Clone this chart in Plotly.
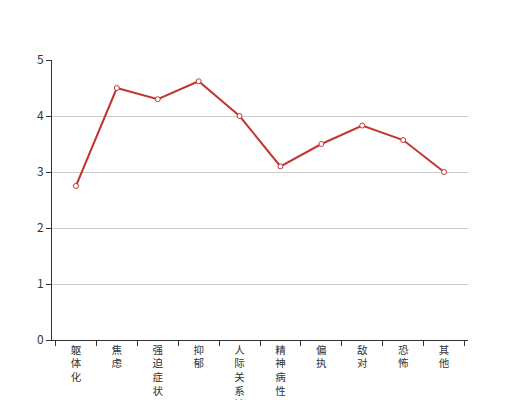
import plotly.graph_objects as go

categories = ["躯体化", "焦虑", "强迫症状", "抑郁", "人际关系敏感",
              "精神病性", "偏执", "敌对", "恐怖", "其他"]
scores = [2.75, 4.5, 4.3, 4.62, 4.0, 3.1, 3.5, 3.83, 3.57, 3.0]

# ECharts-style vertical labels: one character per line
tick_text = ["<br>".join(c) for c in categories]

fig = go.Figure(go.Scatter(
    x=tick_text, y=scores, mode="lines+markers",
    line=dict(color="#c23531", width=2),
    marker=dict(symbol="circle", size=5, color="#ffffff",
                line=dict(color="#c23531", width=1)),
    hoverinfo="skip"))

fig.update_xaxes(
    type="category", automargin=False,
    showgrid=False, zeroline=False,
    showline=True, linecolor="#333333", linewidth=1,
    ticks="outside", tickson="boundaries", ticklen=5, tickcolor="#333333",
    tickfont=dict(size=10.5, color="#333333", family="Noto Sans CJK SC"))

fig.update_yaxes(
    range=[0, 5], dtick=1, automargin=False,
    showgrid=True, gridcolor="#cccccc", gridwidth=1,
    zeroline=False, showline=True, linecolor="#333333", linewidth=1,
    ticks="outside", ticklen=5, tickcolor="#333333",
    tickfont=dict(size=12, color="#333333", family="Noto Sans CJK SC"))

# page body has an 8px margin, so margins are offset to keep the plot in place
fig.update_layout(
    width=512, height=392, showlegend=False,
    margin=dict(l=44, r=52, t=52, b=60),
    paper_bgcolor="#ffffff", plot_bgcolor="#ffffff")

fig.write_html("out.html")
